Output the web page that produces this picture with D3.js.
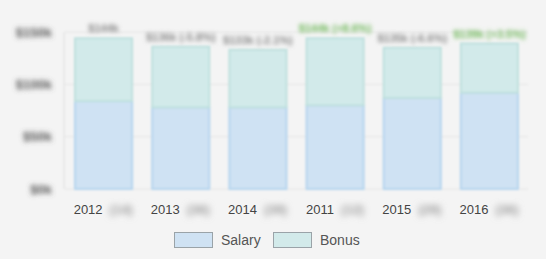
<!DOCTYPE html>
<html>
<head>
<meta charset="utf-8">
<script src="https://cdn.jsdelivr.net/npm/d3@7"></script>
<style>
  html, body { margin: 0; padding: 0; background: #f4f4f4; }
  svg { display: block; font-family: "Liberation Sans", Arial, sans-serif; }
</style>
</head>
<body>
<div id="chart"></div>
<script>
const years = ["2012", "2013", "2014", "2011", "2015", "2016"];
const counts = ["(14)", "(36)", "(39)", "(12)", "(29)", "(36)"];
const salary = [84, 78, 78, 80, 87, 92];
const bonus = [60, 58, 55, 64, 48, 47];
const totalLabels = ["$144k", "$136k (-5.8%)", "$133k (-2.1%)", "$144k (+8.6%)", "$135k (-6.6%)", "$139k (+3.5%)"];
const yTicks = [0, 50, 100, 150];
const seriesNames = ["Salary", "Bonus"];

const W = 546, H = 259;
const svg = d3.select("#chart").append("svg").attr("width", W).attr("height", H);

// the reference has the numbers blurred out
const defs = svg.append("defs");
[["blur-plot", 1.1], ["blur-axis", 2.4], ["blur-label", 2.1], ["blur-count", 3]].forEach(([id, s]) => {
    defs.append("filter").attr("id", id)
        .attr("x", "-20%").attr("y", "-60%").attr("width", "140%").attr("height", "220%")
        .append("feGaussianBlur").attr("stdDeviation", s);
});

const x = d3.scaleBand().domain(years).range([65, 528]).paddingInner(0.26).paddingOuter(0.13);
const y = d3.scaleLinear().domain([0, 150]).range([189, 32]);

const colors = { Salary: { fill: "#cfe2f3", stroke: "#b6d5ee" }, Bonus: { fill: "#d2eaea", stroke: "#bfe0de" } };

const plot = svg.append("g").attr("filter", "url(#blur-plot)");

plot.selectAll(".grid").data(yTicks).join("line")
    .attr("x1", 65).attr("x2", 528)
    .attr("y1", d => y(d)).attr("y2", d => y(d))
    .attr("stroke", "#e4e4e4");

plot.append("line").attr("x1", 64).attr("x2", 64).attr("y1", y(150)).attr("y2", y(0)).attr("stroke", "#dcdcdc");

const data = years.map((yr, i) => ({ yr, salary: salary[i], bonus: bonus[i], total: salary[i] + bonus[i], i }));

plot.selectAll(".sal").data(data).join("rect")
    .attr("x", d => x(d.yr)).attr("width", x.bandwidth())
    .attr("y", d => y(d.salary)).attr("height", d => y(0) - y(d.salary))
    .attr("fill", colors.Salary.fill).attr("stroke", colors.Salary.stroke).attr("stroke-width", 2);

plot.selectAll(".bon").data(data).join("rect")
    .attr("x", d => x(d.yr)).attr("width", x.bandwidth())
    .attr("y", d => y(d.total)).attr("height", d => y(d.salary) - y(d.total))
    .attr("fill", colors.Bonus.fill).attr("stroke", colors.Bonus.stroke).attr("stroke-width", 2);

// y axis labels
svg.append("g").attr("filter", "url(#blur-axis)")
    .selectAll("text").data(yTicks).join("text")
    .attr("x", 52).attr("y", d => y(d)).attr("dy", "0.35em")
    .attr("text-anchor", "end").attr("font-size", 13).attr("font-weight", "bold").attr("fill", "#555")
    .text(d => "$" + d + "k");

// totals above bars
svg.append("g").attr("filter", "url(#blur-label)")
    .selectAll("text").data(data).join("text")
    .attr("x", d => x(d.yr) + x.bandwidth() / 2).attr("y", d => y(d.total) - 6)
    .attr("text-anchor", "middle").attr("font-size", 11).attr("font-weight", "bold")
    .attr("fill", d => totalLabels[d.i].includes("+") ? "#6fb85a" : "#8a8a8a")
    .text(d => totalLabels[d.i]);

// x labels
svg.append("g").selectAll("text").data(data).join("text")
    .attr("x", d => x(d.yr) + x.bandwidth() / 2 - 1).attr("y", 214)
    .attr("text-anchor", "end").attr("font-size", 13).attr("fill", "#444")
    .text(d => d.yr);

svg.append("g").attr("filter", "url(#blur-count)")
    .selectAll("text").data(data).join("text")
    .attr("x", d => x(d.yr) + x.bandwidth() / 2 + 6).attr("y", 214)
    .attr("font-size", 13).attr("font-weight", "bold").attr("fill", "#999")
    .text(d => counts[d.i]);

// legend
const legendX = d3.scaleOrdinal().domain(seriesNames).range([174, 273]);
const lg = svg.append("g").selectAll("g").data(seriesNames).join("g")
    .attr("transform", d => `translate(${legendX(d)},232)`);
lg.append("rect").attr("x", 0.5).attr("y", 0.5).attr("width", 38).attr("height", 15)
    .attr("fill", d => colors[d].fill).attr("stroke", "#9aa3a8");
lg.append("text").attr("x", 47).attr("y", 8).attr("dy", "0.35em")
    .attr("font-size", 14).attr("fill", "#555").text(d => d);
</script>
</body>
</html>
